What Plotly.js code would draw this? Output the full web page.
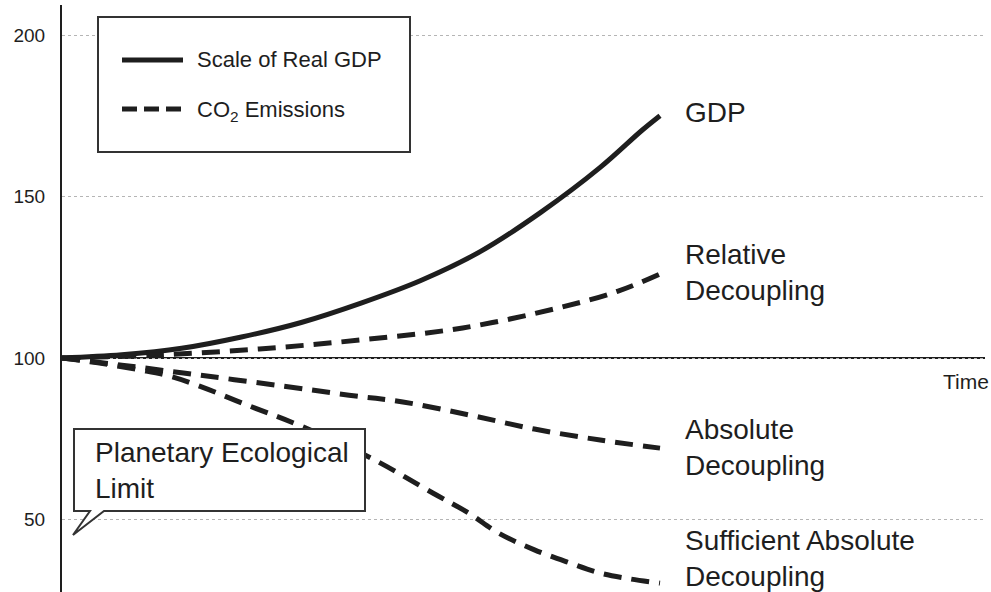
<!DOCTYPE html>
<html>
<head>
<meta charset="utf-8">
<script src="https://cdn.plot.ly/plotly-3.0.1.min.js"></script>
<style>html,body{margin:0;padding:0;background:#fff;}#chart{width:991px;height:592px;}</style>
</head>
<body>
<div id="chart"></div>
<script>
// ---- data ----
const timeGDP = [0, 10, 20, 30, 40, 50, 60, 70, 80, 90, 97, 100];
const gdp = [100, 101, 103, 106.5, 111, 117, 124, 133, 145, 159, 170.5, 175];

const timeRel = [0, 16, 33, 50, 67, 83, 93, 100];
const relative = [100, 100.9, 102.8, 105.6, 109.3, 115.5, 120.7, 126];

const timeAbs = [0, 10, 23, 37, 48, 57, 68, 79, 90, 100];
const absolute = [100, 97.8, 94.7, 91.3, 88.5, 86.4, 82.4, 78, 74.6, 72.1];

const timeSuf = [0, 6, 13, 18, 23, 31, 40, 52, 62, 68, 73, 79, 85, 90, 95, 100];
const sufficient = [100, 98.5, 96.3, 94.4, 91.3, 85.4, 78.9, 68.7, 58.2, 52, 45.8, 40.6, 36.5, 33.4, 31.6, 30.3];

const yTicks = [50, 100, 150, 200];
const legendNames = ['Scale of Real GDP', 'CO<sub>2</sub> Emissions'];
const curveLabels = ['GDP', 'Relative<br>Decoupling', 'Absolute<br>Decoupling', 'Sufficient Absolute<br>Decoupling'];
const calloutText = 'Planetary Ecological<br>Limit';
const xAxisLabel = 'Time';

// ---- layout helpers (pixel -> paper) ----
const W = 991, H = 592, ML = 62, MR = 6, MT = 5, MB = 0;
const PW = W - ML - MR, PH = H - MT - MB;
const X = px => (px - ML) / PW;
const Y = py => (H - MB - py) / PH;

const ink = '#1e1e1e';
const reg = '"Liberation Sans", Arial, Helvetica, sans-serif';

const dashed = '18px,10px';
const traces = [
  {x: timeGDP, y: gdp, name: legendNames[0], mode: 'lines',
   line: {color: ink, width: 5, shape: 'spline', smoothing: 1}},
  {x: timeRel, y: relative, name: 'Relative Decoupling', mode: 'lines',
   line: {color: ink, width: 5, dash: dashed, shape: 'spline', smoothing: 1}},
  {x: timeAbs, y: absolute, name: 'Absolute Decoupling', mode: 'lines',
   line: {color: ink, width: 5, dash: dashed, shape: 'spline', smoothing: 1}},
  {x: timeSuf, y: sufficient, name: 'Sufficient Absolute Decoupling', mode: 'lines',
   line: {color: ink, width: 5, dash: dashed, shape: 'spline', smoothing: 1}}
];

function callPath() {
  const pts = [[74,429],[365,429],[365,511],[104,511],[73,535],[90,511],[74,511]];
  return 'M' + pts.map(p => X(p[0]).toFixed(5) + ',' + Y(p[1]).toFixed(5)).join('L') + 'Z';
}

const shapes = [
  // time axis at 100
  {type: 'line', xref: 'paper', yref: 'y', x0: 0, x1: 1, y0: 100, y1: 100,
   line: {color: ink, width: 2}, layer: 'below'},
  // legend box
  {type: 'rect', xref: 'paper', yref: 'paper', x0: X(98), x1: X(410), y0: Y(152), y1: Y(17),
   line: {color: '#333', width: 2}, fillcolor: '#fff', layer: 'above'},
  {type: 'line', xref: 'paper', yref: 'paper', x0: X(122), x1: X(183), y0: Y(60), y1: Y(60),
   line: {color: ink, width: 5}, layer: 'above'},
  {type: 'line', xref: 'paper', yref: 'paper', x0: X(122), x1: X(183), y0: Y(109), y1: Y(109),
   line: {color: ink, width: 5, dash: '15px,7px'}, layer: 'above'},
  // callout box
  {type: 'path', xref: 'paper', yref: 'paper', path: callPath(),
   line: {color: '#333', width: 2}, fillcolor: '#fff', layer: 'above'}
];

const lab = (txt, px, py, font, xanchor) => ({
  text: txt, xref: 'paper', yref: 'paper', x: X(px), y: Y(py),
  xanchor: xanchor || 'left', yanchor: 'middle', align: 'left',
  showarrow: false, font: font
});
const bigFont = {family: reg, size: 28, color: ink};
const legFont = {family: reg, size: 22, color: ink};

const annotations = [
  lab(curveLabels[0], 683, 112, bigFont),
  lab(curveLabels[1], 683, 272, bigFont),
  lab(curveLabels[2], 683, 447, bigFont),
  lab(curveLabels[3], 683, 558, bigFont),
  lab(calloutText, 93, 470, bigFont),
  lab(legendNames[0], 195, 60, legFont),
  lab(legendNames[1], 195, 111, legFont),
  lab(xAxisLabel, 991, 382, {family: reg, size: 21, color: ink}, 'right')
];

const pxPerUnit = 3.23, y100 = 358;
const layout = {
  width: W, height: H,
  margin: {l: ML, r: MR, t: MT, b: MB, pad: 0},
  paper_bgcolor: '#fff', plot_bgcolor: '#fff',
  showlegend: false,
  xaxis: {visible: false, range: [0, PW / 5.98], fixedrange: true},
  yaxis: {
    range: [100 - (H - MB - y100) / pxPerUnit, 100 + (y100 - MT) / pxPerUnit],
    tickvals: yTicks, ticktext: yTicks.map(String),
    showgrid: true, gridcolor: '#b5b5b5', gridwidth: 1, griddash: 'dot',
    zeroline: false, showline: true, linecolor: ink, linewidth: 2,
    ticks: '', ticklabelstandoff: 11,
    tickfont: {family: reg, size: 19, color: ink}
  },
  shapes: shapes,
  annotations: annotations
};

Plotly.newPlot('chart', traces, layout, {staticPlot: true, displayModeBar: false});
</script>
</body>
</html>
